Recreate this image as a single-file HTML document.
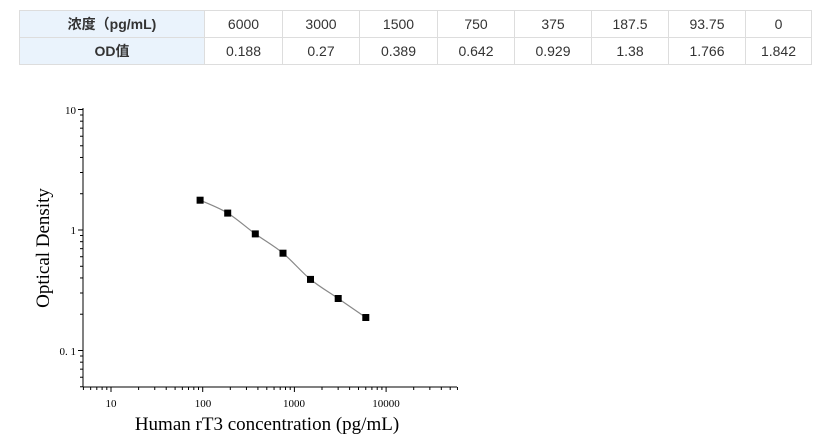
<!DOCTYPE html>
<html><head><meta charset="utf-8"><style>
body{margin:0;background:#fff;width:827px;height:439px;overflow:hidden;position:relative}
table{position:absolute;left:19px;top:10px;border-collapse:collapse;font-family:"Liberation Sans","Noto Sans CJK SC",sans-serif;font-size:14px;color:#333}
td{border:1px solid #ddd;height:26px;padding:0;text-align:center}
td.h{background:#eaf3fc;font-weight:bold;width:184px}
svg{position:absolute;left:0;top:0}
</style></head><body>
<table>
<tr><td class="h">浓度（pg/mL)</td><td style="width:77px">6000</td><td style="width:76px">3000</td><td style="width:77px">1500</td><td style="width:76px">750</td><td style="width:76px">375</td><td style="width:76px">187.5</td><td style="width:76px">93.75</td><td style="width:65px">0</td></tr>
<tr><td class="h">OD值</td><td>0.188</td><td>0.27</td><td>0.389</td><td>0.642</td><td>0.929</td><td>1.38</td><td>1.766</td><td>1.842</td></tr>
</table>
<svg id="s" width="827" height="439" xmlns="http://www.w3.org/2000/svg" font-family="Liberation Serif,serif">
<line x1="83" y1="108" x2="83" y2="387" stroke="#000" stroke-width="1"/>
<line x1="83" y1="387" x2="457" y2="387" stroke="#000" stroke-width="1"/>
<g id="t" stroke="#000" stroke-width="1"></g>
<text x="111" y="407" font-size="11" text-anchor="middle">10</text>
<text x="203" y="407" font-size="11" text-anchor="middle">100</text>
<text x="294" y="407" font-size="11" text-anchor="middle">1000</text>
<text x="386" y="407" font-size="11" text-anchor="middle">10000</text>
<text x="76" y="114" font-size="11" text-anchor="end">10</text>
<text x="76" y="234" font-size="11" text-anchor="end">1</text>
<text x="76" y="355" font-size="11" text-anchor="end">0. 1</text>
<text x="267" y="430" font-size="19" text-anchor="middle">Human rT3 concentration (pg/mL)</text>
<text transform="translate(49,248) rotate(-90)" font-size="19" text-anchor="middle">Optical Density</text>
<path id="c" d="" fill="none" stroke="#888" stroke-width="1.2"/>
<g fill="#000">
<rect x="196.6" y="196.7" width="7" height="7"/>
<rect x="224.2" y="209.6" width="7" height="7"/>
<rect x="251.8" y="230.4" width="7" height="7"/>
<rect x="279.5" y="249.7" width="7" height="7"/>
<rect x="307" y="275.9" width="7" height="7"/>
<rect x="334.7" y="295" width="7" height="7"/>
<rect x="362.3" y="314" width="7" height="7"/>
</g>
</svg>
<script>
var g=document.getElementById('t'),h='';
function X(v){return 202.7+91.7*Math.log10(v/100)}
function Y(v){return 230-120.5*Math.log10(v)}
for(var d=1;d<=10000;d*=10)for(var m=1;m<10;m++){var v=d*m;if(v<5||v>60000)continue;var x=X(v);h+='<line x1="'+x+'" x2="'+x+'" y1="387" y2="'+(387+(m==1?5:3))+'"/>';}
for(var d=0.01;d<=10;d*=10)for(var m=1;m<10;m++){var v=d*m;if(v<0.049||v>10.01)continue;var y=Y(v);h+='<line x1="83" x2="'+(83-(m==1?5:3))+'" y1="'+y+'" y2="'+y+'"/>';}
g.innerHTML=h;
var P=[[200.1,200.2],[227.7,213.1],[255.3,233.9],[283,253.2],[310.5,279.4],[338.2,298.5],[365.8,317.5]];
var d='M'+P[0];
for(var i=0;i<P.length-1;i++){var p0=P[i-1]||P[i],p1=P[i],p2=P[i+1],p3=P[i+2]||p2;
d+=' C'+(p1[0]+(p2[0]-p0[0])/6)+','+(p1[1]+(p2[1]-p0[1])/6)+' '+(p2[0]-(p3[0]-p1[0])/6)+','+(p2[1]-(p3[1]-p1[1])/6)+' '+p2;}
document.getElementById('c').setAttribute('d',d);
</script>
</body></html>
